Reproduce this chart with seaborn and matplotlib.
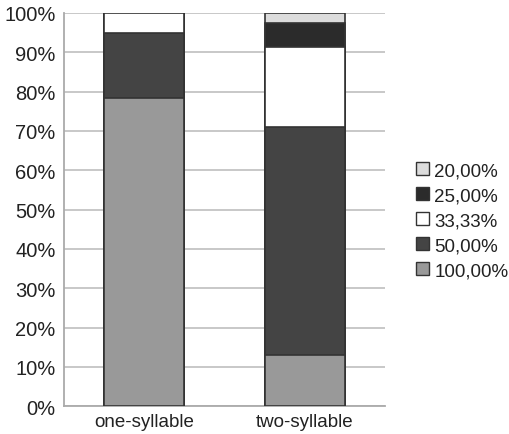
import matplotlib.pyplot as plt
import seaborn as sns
import pandas as pd
import numpy as np
from matplotlib.patches import Patch

categories = ["one-syllable", "two-syllable"]
levels = ["20,00%", "25,00%", "33,33%", "50,00%", "100,00%"]
# share of each level per category, in percent
share_20 = [0.0, 2.5]
share_25 = [0.0, 6.2]
share_33 = [5.1, 20.3]
share_50 = [16.5, 58.0]
share_100 = [78.4, 13.0]
colors = ["#dcdcdc", "#2b2b2b", "#ffffff", "#444444", "#999999"]

sns.set_style("white")
plt.rcParams["font.family"] = ["Liberation Sans", "DejaVu Sans"]

shares = [share_20, share_25, share_33, share_50, share_100]
df = pd.DataFrame(dict(zip(levels, shares)), index=categories)
df.index.name = "category"

fig, ax = plt.subplots(figsize=(5.1, 4.35), dpi=100)
fig.subplots_adjust(left=0.125, right=0.755, top=0.968, bottom=0.064)

# stacked bars: draw cumulative totals, top level first
for i, (level, color) in enumerate(zip(levels, colors)):
    top = df[levels[i:]].sum(axis=1).reset_index(name="value")
    sns.barplot(data=top, x="category", y="value", color=color, width=0.5,
                edgecolor="#333333", linewidth=1.2, saturation=1, ax=ax, zorder=3)

ax.set_ylim(0, 100)
ax.set_xlim(-0.5, 1.5)
ax.set_yticks(np.arange(0, 101, 10))
ax.set_yticklabels([f"{v}%" for v in range(0, 101, 10)], fontsize=14.5, color="#222222")
ax.set_xticks([0, 1])
ax.set_xticklabels(categories, fontsize=13.5, color="#222222")
ax.set_xticks([0.5], minor=True)
ax.tick_params(axis="x", which="major", length=0, pad=5)
ax.tick_params(axis="x", which="minor", length=5, color="#999999")
ax.tick_params(axis="y", length=4, color="#999999", pad=2)
ax.set_xlabel("")
ax.set_ylabel("")
ax.yaxis.grid(True, color="#c4c4c4", linewidth=1.3, zorder=0)
ax.set_axisbelow(True)
for s in ["top", "right"]:
    ax.spines[s].set_visible(False)
for s in ["left", "bottom"]:
    ax.spines[s].set_color("#aaaaaa")
    ax.spines[s].set_linewidth(1.3)

handles = [Patch(facecolor=c, edgecolor="#333333", linewidth=1.0) for c in colors]
leg = fig.legend(handles, levels, loc="center left", bbox_to_anchor=(0.8, 0.49),
                 frameon=False, fontsize=13.5, handlelength=0.7, handleheight=0.7,
                 handletextpad=0.3, labelspacing=0.42, borderaxespad=0)
for t in leg.get_texts():
    t.set_color("#222222")

fig.savefig("out.png", dpi=100)
